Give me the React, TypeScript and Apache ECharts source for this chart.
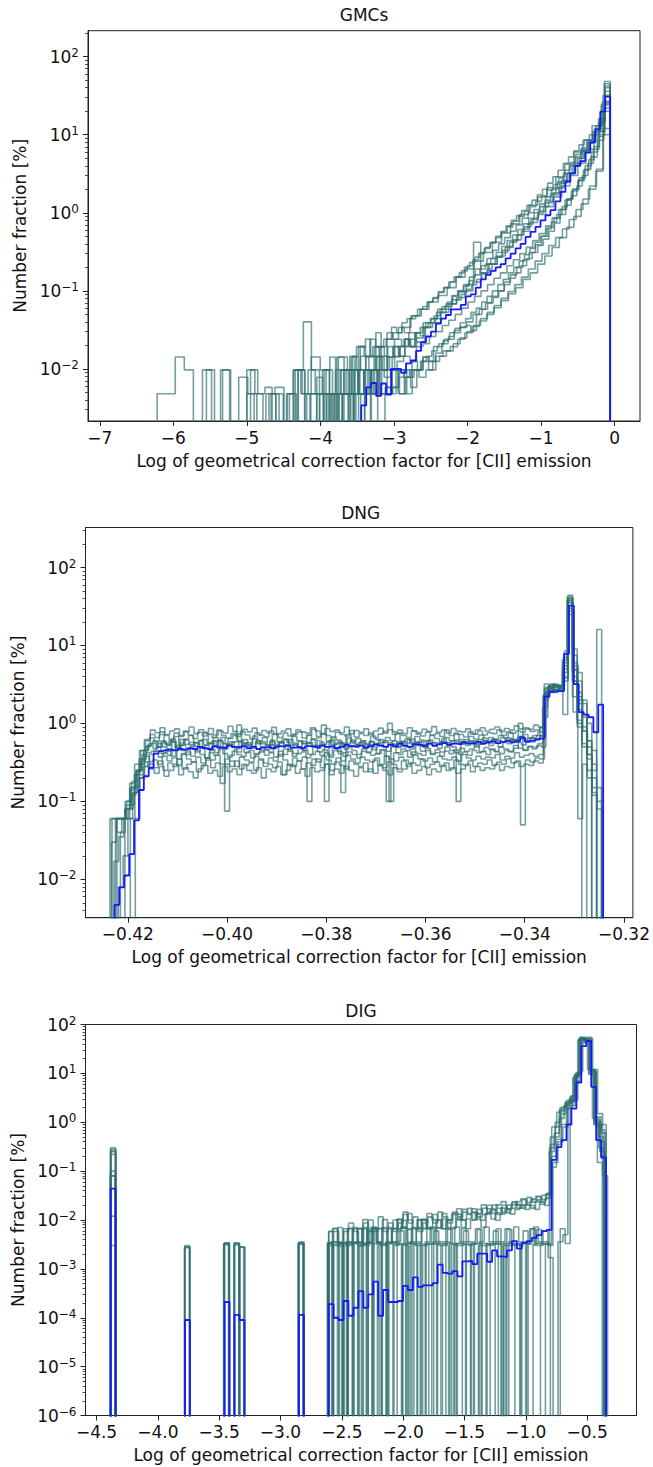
import React, { useEffect, useRef } from "react";
import * as echarts from "echarts";

// ================= GMCs =================
const GMC_X_TICKS = [-7, -6, -5, -4, -3, -2, -1, 0];
const GMC_Y_TICKS = [0.01, 0.1, 1, 10, 100];
const GMC_BLUE_START = -3.445;
const GMC_BLUE_WIDTH = 0.0677;
const GMC_BLUE = [0.0034, 0.0058, 0.0066, 0.0045, 0.0065, 0.0047, 0.01, 0.01, 0.0089, 0.0118, 0.0128, 0.017, 0.022, 0.026, 0.03, 0.038, 0.044, 0.049, 0.058, 0.058, 0.066, 0.085, 0.09, 0.11, 0.14, 0.16, 0.18, 0.2, 0.22, 0.26, 0.3, 0.35, 0.4, 0.49, 0.57, 0.66, 0.8, 0.93, 1.08, 1.4, 1.85, 2.5, 3.2, 4.0, 4.6, 5.9, 8.0, 11.7, 19.7, 30.7];
const GMC_TEAL_STARTS = [-6.22, -5.55, -4.95, -4.3, -4.05, -3.85, -3.7, -3.55, -4.45, -3.95, -4.7, -3.6, -5.0, -3.75];
const GMC_TEAL_WIDTHS = [0.1232, 0.1098, 0.0978, 0.0848, 0.0798, 0.0758, 0.0728, 0.0698, 0.0878, 0.0778, 0.0928, 0.0708, 0.0988, 0.0738];
const GMC_T1 = [0.0048, 0.0048, 0.0142, 0.0097, 0, 0.0097, 0, 0.0097, 0, 0.0078, 0.0048, 0, 0.0048, 0.0058, 0, 0.0097, 0.0048, 0.0142, 0.0097, 0.0048, 0.0142, 0.0097, 0.0193, 0.0145, 0.019, 0.024, 0.029, 0.034, 0.048, 0.058, 0.072, 0.087, 0.11, 0.15, 0.19, 0.24, 0.31, 0.42, 0.55, 0.72, 0.95, 1.25, 1.6, 2.1, 2.9, 4.2, 6.0, 8.5, 13, 24];
const GMC_T2 = [0.0097, 0, 0.0097, 0, 0, 0.0097, 0.0048, 0, 0.0048, 0, 0, 0.0097, 0.04, 0.0097, 0.0048, 0.0048, 0.0097, 0.0048, 0.0097, 0.0048, 0.0097, 0.0142, 0.0097, 0.0142, 0.0195, 0.024, 0.022, 0.034, 0.039, 0.053, 0.068, 0.082, 0.1, 0.13, 0.17, 0.22, 0.28, 0.36, 0.45, 0.58, 0.75, 0.95, 1.2, 1.6, 2.2, 3.0, 4.3, 6.5, 11, 26];
const GMC_T3 = [0.0097, 0.0048, 0.0058, 0, 0, 0.0048, 0.0097, 0.0048, 0.0097, 0.0048, 0.0097, 0.0048, 0.0142, 0.0097, 0.0142, 0.0048, 0.0142, 0.0193, 0.0097, 0.0142, 0.024, 0.0193, 0.029, 0.025, 0.039, 0.044, 0.058, 0.063, 0.077, 0.097, 0.12, 0.42, 0.17, 0.22, 0.27, 0.33, 0.42, 0.52, 0.66, 0.82, 1.05, 1.35, 1.8, 2.4, 3.2, 4.3, 6.2, 8.6, 13, 32];
const GMC_T4 = [0.0097, 0, 0.0048, 0.0048, 0, 0.0048, 0, 0.0048, 0.0097, 0, 0.0048, 0.0048, 0.0097, 0.0048, 0.0058, 0.0097, 0.0048, 0.0097, 0.0058, 0.0097, 0.0142, 0.0125, 0.016, 0.021, 0.024, 0.029, 0.034, 0.04, 0.05, 0.058, 0.07, 0.085, 0.1, 0.13, 0.16, 0.2, 0.25, 0.31, 0.39, 0.5, 0.65, 0.85, 1.1, 1.5, 2.0, 2.8, 4.0, 6.0, 9.5, 22];
const GMC_T5 = [0.0078, 0.0048, 0, 0.0048, 0.0097, 0.0048, 0.0048, 0.0097, 0.0048, 0.0097, 0.0145, 0.0097, 0.0142, 0.0193, 0.0145, 0.024, 0.0193, 0.029, 0.034, 0.039, 0.048, 0.058, 0.068, 0.087, 0.1, 0.12, 0.15, 0.19, 0.21, 0.26, 0.33, 0.4, 0.48, 0.58, 0.7, 0.85, 1.0, 1.1, 1.3, 1.6, 2.0, 2.5, 3.2, 4.0, 5.2, 6.5, 8.5, 11, 16, 45];
const GMC_T6 = [0.0048, 0, 0.0048, 0, 0.0048, 0.0048, 0, 0.0048, 0.0048, 0.0097, 0.0048, 0.0058, 0.0097, 0.0078, 0.0097, 0.0097, 0.0125, 0.0145, 0.017, 0.0193, 0.023, 0.026, 0.031, 0.034, 0.036, 0.031, 0.05, 0.058, 0.07, 0.082, 0.1, 0.12, 0.145, 0.17, 0.21, 0.26, 0.31, 0.38, 0.46, 0.58, 0.74, 0.95, 1.25, 1.65, 2.2, 3.0, 4.3, 6.5, 10, 25];
const GMC_T7 = [0.0048, 0.0048, 0, 0.0097, 0.0048, 0.0048, 0.0097, 0.0048, 0.0058, 0.0048, 0.0097, 0.0097, 0.0078, 0.0125, 0.0097, 0.0142, 0.0125, 0.0193, 0.021, 0.024, 0.029, 0.033, 0.039, 0.044, 0.053, 0.06, 0.072, 0.085, 0.1, 0.12, 0.14, 0.17, 0.2, 0.24, 0.29, 0.35, 0.42, 0.5, 0.62, 0.76, 0.95, 1.2, 1.5, 2.0, 2.6, 3.5, 4.8, 7.0, 11, 27];
const GMC_T8 = [0.0097, 0.0048, 0.0097, 0.0145, 0.0097, 0.0193, 0.0145, 0.0097, 0.0193, 0.0145, 0.024, 0.0193, 0.029, 0.0266, 0.034, 0.039, 0.044, 0.053, 0.058, 0.068, 0.077, 0.09, 0.105, 0.12, 0.14, 0.165, 0.19, 0.22, 0.27, 0.31, 0.37, 0.44, 0.52, 0.62, 0.72, 0.85, 1.0, 1.2, 1.4, 1.7, 2.1, 2.6, 3.2, 4.0, 5.0, 6.3, 8.0, 10.5, 15, 40];
const GMC_T9 = [0.0048, 0, 0, 0.0048, 0.0048, 0, 0.0097, 0, 0.0048, 0.0048, 0.0097, 0.0048, 0.0097, 0.0048, 0.0097, 0.0078, 0.0097, 0.0125, 0.0145, 0.0125, 0.0193, 0.021, 0.026, 0.03, 0.036, 0.042, 0.05, 0.06, 0.072, 0.085, 0.1, 0.12, 0.145, 0.17, 0.21, 0.25, 0.3, 0.36, 0.44, 0.54, 0.68, 0.86, 1.1, 1.45, 1.9, 2.6, 3.6, 5.2, 8.5, 20];
const GMC_T10 = [0.0097, 0.0142, 0.0048, 0.0097, 0.0097, 0.0145, 0.0193, 0.0145, 0.024, 0.0193, 0.0145, 0.029, 0.024, 0.034, 0.029, 0.044, 0.048, 0.058, 0.072, 0.08, 0.095, 0.11, 0.13, 0.15, 0.18, 0.21, 0.25, 0.3, 0.35, 0.41, 0.48, 0.56, 0.66, 0.78, 0.9, 1.05, 1.2, 1.4, 1.65, 1.95, 2.3, 2.8, 3.5, 4.4, 5.6, 6.8, 8.0, 10, 14, 48];
const GMC_T11 = [0.0048, 0, 0, 0.0048, 0, 0, 0.0048, 0, 0.0048, 0, 0.0048, 0, 0.0048, 0.0048, 0, 0.0097, 0.0048, 0.0048, 0.0058, 0.0078, 0.0048, 0.0097, 0.0078, 0.0097, 0.0125, 0.0145, 0.017, 0.021, 0.025, 0.03, 0.036, 0.044, 0.053, 0.065, 0.08, 0.098, 0.12, 0.15, 0.19, 0.24, 0.3, 0.38, 0.48, 0.62, 0.82, 1.1, 1.5, 2.2, 3.6, 10];
const GMC_T12 = [0.0145, 0.0097, 0.0193, 0.0242, 0.0145, 0.029, 0.0193, 0.0242, 0.034, 0.029, 0.039, 0.044, 0.048, 0.058, 0.063, 0.072, 0.082, 0.097, 0.11, 0.13, 0.15, 0.17, 0.2, 0.23, 0.27, 0.31, 0.36, 0.42, 0.5, 0.58, 0.68, 0.8, 0.92, 1.07, 1.25, 1.45, 1.7, 2.0, 2.4, 2.9, 3.5, 4.3, 5.2, 6.2, 7.4, 8.6, 10, 12, 16, 36];
const GMC_T13 = [0.0048, 0, 0, 0, 0.0048, 0, 0, 0.0097, 0, 0, 0.0048, 0, 0.0048, 0.0048, 0, 0.0048, 0.0048, 0.0097, 0, 0.0048, 0.0097, 0.0048, 0.0078, 0.0097, 0.0125, 0.0097, 0.0145, 0.017, 0.0193, 0.024, 0.029, 0.035, 0.041, 0.05, 0.061, 0.075, 0.092, 0.11, 0.14, 0.17, 0.22, 0.28, 0.36, 0.48, 0.65, 0.9, 1.3, 2.0, 3.4, 12];
const GMC_T14 = [0.0048, 0.0097, 0.0048, 0.0097, 0.0145, 0.0097, 0.0048, 0.0145, 0.0097, 0.0193, 0.0145, 0.0193, 0.0242, 0.0193, 0.029, 0.034, 0.039, 0.044, 0.053, 0.063, 0.072, 0.085, 0.1, 0.115, 0.135, 0.16, 0.19, 0.22, 0.26, 0.31, 0.37, 0.44, 0.52, 0.61, 0.72, 0.85, 1.0, 1.2, 1.45, 1.75, 2.1, 2.6, 3.2, 4.0, 5.0, 6.2, 7.8, 10, 14, 42];
const GMC_TEAL = [GMC_T1, GMC_T2, GMC_T3, GMC_T4, GMC_T5, GMC_T6, GMC_T7, GMC_T8, GMC_T9, GMC_T10, GMC_T11, GMC_T12, GMC_T13, GMC_T14];

// ================= DNG =================
const DNG_X_TICKS = [-0.42, -0.4, -0.38, -0.36, -0.34, -0.32];
const DNG_Y_TICKS = [0.01, 0.1, 1, 10, 100];
const DNG_BLUE_START = -0.42269;
const DNG_BLUE_WIDTH = 0.000985;
const DNG_BLUE = [0.0047, 0.0079, 0.0112, 0.021, 0.057, 0.14, 0.21, 0.27, 0.41,
  0.44, 0.45, 0.46, 0.45, 0.47, 0.46, 0.48, 0.47, 0.5, 0.48,
  0.47, 0.51, 0.49, 0.48, 0.52, 0.5, 0.49, 0.51, 0.48, 0.5,
  0.47, 0.49, 0.5, 0.48, 0.51, 0.5, 0.52, 0.49, 0.5, 0.48,
  0.51, 0.5, 0.49, 0.52, 0.5, 0.51, 0.48, 0.5, 0.53, 0.51,
  0.5, 0.52, 0.49, 0.51, 0.54, 0.52, 0.5, 0.53, 0.51, 0.55,
  0.52, 0.5, 0.54, 0.53, 0.51, 0.55, 0.52, 0.54, 0.56, 0.53,
  0.55, 0.54, 0.57, 0.55, 0.56, 0.58, 0.55, 0.57, 0.59, 0.56,
  0.58, 0.6, 0.57, 0.59, 0.66, 0.58, 0.6, 0.62, 0.64,
  2.2, 2.55, 2.6, 2.6, 7.8, 32.5, 3.2, 1.4, 1.3, 1.2, 0.77, 1.74];
const DNG_TEAL_STARTS = [-0.4236, -0.4232, -0.4228, -0.4222, -0.4215, -0.4206, -0.4195, -0.4185, -0.4233, -0.4225, -0.4219];
const DNG_TEAL_WIDTHS = [0.000991, 0.000987, 0.000973, 0.000957, 0.00094, 0.000961, 0.00091, 0.00093, 0.000978, 0.00098, 0.000954];
const DNG_T1 = [0.06, 0.06, 0.06, 0.08, 0.17, 0.3, 0.45, 0.62,
  0.65, 0.58, 0.72, 0.55, 0.6, 0.68, 0.52, 0.63, 0.7, 0.57,
  0.61, 0.75, 0.55, 0.66, 0.59, 0.5, 0.64, 0.71, 0.58, 0.62,
  0.54, 0.69, 0.6, 0.66, 0.52, 0.73, 0.58, 0.63, 0.57, 0.68,
  0.6, 0.55, 0.7, 0.62, 0.65, 0.95, 0.59, 0.67, 0.61, 0.56,
  0.72, 0.58, 0.64, 0.6, 0.53, 0.69, 0.62, 0.57, 0.66, 0.6,
  0.74, 0.58, 0.63, 0.55, 0.68, 0.61, 0.59, 0.7, 0.64, 0.57,
  0.66, 0.6, 0.72, 0.62, 0.58, 0.68, 0.63, 0.71, 0.6, 0.66,
  0.62, 0.7, 0.65, 0.75, 0.6, 0.68, 0.72, 0.64, 0.7, 0.78,
  1.6, 2.9, 3.1, 2.8, 6.5, 42, 4.8, 1.1, 0.55, 0.35, 0.25, 16];
const DNG_T2 = [0.06, 0.04, 0.06, 0.1, 0.18, 0.25, 0.35, 0.42,
  0.44, 0.5, 0.41, 0.47, 0.38, 0.52, 0.45, 0.4, 0.48, 0.43,
  0.5, 0.36, 0.46, 0.42, 0.49, 0.075, 0.39, 0.47, 0.51, 0.42,
  0.45, 0.4, 0.43, 0.46, 0.43, 0.5, 0.38, 0.47, 0.44, 0.41,
  0.49, 0.45, 0.4, 0.52, 0.43, 0.46, 0.39, 0.48, 0.44, 0.42,
  0.5, 0.45, 0.4, 0.47, 0.43, 0.49, 0.41, 0.46, 0.44, 0.5,
  0.42, 0.47, 0.45, 0.4, 0.52, 0.44, 0.48, 0.41, 0.46, 0.43,
  0.5, 0.45, 0.42, 0.48, 0.44, 0.47, 0.52, 0.43, 0.49, 0.46,
  0.44, 0.5, 0.47, 0.43, 0.52, 0.48, 0.45, 0.51, 0.49, 0.55,
  1.2, 2.6, 2.9, 3.0, 4.5, 38, 9, 2.2, 1.3, 0.6, 0.3, 0.15];
const DNG_T3 = [0.017, 0.035, 0.06, 0.08, 0.13, 0.2, 0.28, 0.32,
  0.34, 0.3, 0.38, 0.33, 0.36, 0.29, 0.4, 0.35, 0.32, 0.37,
  0.31, 0.36, 0.34, 0.39, 0.3, 0.35, 0.33, 0.28, 0.37, 0.34,
  0.32, 0.38, 0.35, 0.31, 0.36, 0.33, 0.4, 0.34, 0.29, 0.36,
  0.33, 0.37, 0.1, 0.35, 0.32, 0.38, 0.34, 0.3, 0.36, 0.33,
  0.39, 0.35, 0.31, 0.37, 0.34, 0.32, 0.36, 0.3, 0.38, 0.35,
  0.33, 0.37, 0.34, 0.31, 0.39, 0.35, 0.33, 0.36, 0.32, 0.38,
  0.35, 0.34, 0.37, 0.33, 0.4, 0.36, 0.34, 0.38, 0.35, 0.37,
  0.36, 0.4, 0.34, 0.38, 0.36, 0.42, 0.37, 0.39, 0.41, 0.38, 0.4,
  2.0, 2.7, 2.5, 2.6, 1.3, 25, 3.5, 1.8, 0.9, 0.4, 0.13];
const DNG_T4 = [0.06, 0.06, 0.08, 0.12, 0.25, 0.45, 0.6,
  0.72, 0.66, 0.78, 0.7, 0.62, 0.75, 0.68, 0.8, 0.71, 0.64,
  0.77, 0.69, 0.73, 0.66, 0.82, 0.7, 0.65, 0.74, 0.68, 0.79,
  0.71, 0.63, 0.76, 0.7, 0.67, 0.8, 0.72, 0.66, 0.75, 0.69,
  0.73, 0.78, 0.65, 0.71, 0.84, 0.68, 0.74, 0.7, 0.66, 0.77,
  0.72, 0.69, 0.81, 0.67, 0.74, 0.7, 0.76, 0.65, 0.73, 0.79,
  1.0, 0.72, 0.75, 0.7, 0.66, 0.8, 0.73, 0.69, 0.77, 0.71,
  0.74, 0.68, 0.82, 0.7, 0.75, 0.72, 0.67, 0.78, 0.73, 0.8,
  0.71, 0.76, 0.74, 0.83, 0.7, 0.78, 0.75, 0.8, 0.77, 0.85,
  0.79, 0.82, 0.88,
  3.2, 3.0, 3.1, 2.9, 4.0, 44, 5.0, 2.5, 1.2, 0.5];
const DNG_T5 = [0.04, 0.08, 0.14, 0.22, 0.35, 0.45,
  0.52, 0.47, 0.55, 0.5, 0.44, 0.58, 0.49, 0.53, 0.46, 0.51,
  0.56, 0.48, 0.52, 0.45, 0.6, 0.5, 0.47, 0.54, 0.49, 0.43,
  0.55, 0.51, 0.48, 0.57, 0.5, 0.46, 0.53, 0.49, 0.58, 0.52,
  0.47, 0.54, 0.5, 0.45, 0.56, 0.51, 0.48, 0.53, 0.5, 0.62,
  0.49, 0.55, 0.47, 0.52, 0.5, 0.57, 0.48, 0.53, 0.46, 0.55,
  0.51, 0.1, 0.54, 0.49, 0.56, 0.5, 0.47, 0.58, 0.52, 0.49,
  0.55, 0.51, 0.48, 0.57, 0.53, 0.5, 0.1, 0.55, 0.52, 0.58,
  0.5, 0.54, 0.6, 0.52, 0.56, 0.5, 0.58, 0.55, 0.62, 0.57,
  0.53, 0.6, 0.58, 0.63,
  0.9, 2.4, 2.8, 3.0, 2.7, 5.5, 30, 3.5, 1.5, 0.8];
const DNG_T6 = [0.06, 0.09, 0.16, 0.22, 0.28,
  0.3, 0.27, 0.33, 0.25, 0.31, 0.28, 0.35, 0.26, 0.3, 0.32,
  0.24, 0.29, 0.34, 0.27, 0.31, 0.17, 0.3, 0.28, 0.33, 0.26,
  0.29, 0.31, 0.25, 0.34, 0.28, 0.3, 0.27, 0.32, 0.22, 0.3,
  0.28, 0.33, 0.26, 0.31, 0.29, 0.35, 0.27, 0.3, 0.25, 0.32,
  0.29, 0.26, 0.33, 0.3, 0.28, 0.31, 0.24, 0.34, 0.29, 0.27,
  0.32, 0.3, 0.26, 0.33, 0.28, 0.31, 0.29, 0.35, 0.27, 0.3,
  0.32, 0.28, 0.31, 0.26, 0.34, 0.3, 0.29, 0.33, 0.28, 0.31,
  0.3, 0.34, 0.29, 0.32, 0.3, 0.35, 0.31, 0.33, 0.05, 0.34,
  0.32, 0.36, 0.35,
  2.5, 2.8, 2.7, 3.1, 7.0, 35, 1.4, 0.06, 0.3, 0.2, 0.15, 0.1];
const DNG_T7 = [0.06, 0.15, 0.3, 0.45,
  0.55, 0.6, 0.5, 0.58, 0.52, 0.63, 0.49, 0.56, 0.61, 0.53,
  0.57, 0.5, 0.62, 0.55, 0.59, 0.51, 0.66, 0.54, 0.58, 0.5,
  0.6, 0.56, 0.52, 0.64, 0.55, 0.58, 0.5, 0.61, 0.54, 0.57,
  0.53, 0.62, 0.56, 0.5, 0.59, 0.55, 0.63, 0.52, 0.57, 0.1,
  0.6, 0.54, 0.58, 0.51, 0.65, 0.56, 0.53, 0.6, 0.55, 0.58,
  0.52, 0.62, 0.57, 0.54, 0.6, 0.5, 0.59, 0.56, 0.63, 0.55,
  0.58, 0.53, 0.61, 0.57, 0.55, 0.64, 0.56, 0.6, 0.58, 0.54,
  0.62, 0.57, 0.6, 0.55, 0.65, 0.58, 0.62, 0.6, 0.66, 0.59,
  0.63, 0.61, 0.68, 0.62, 0.65, 0.64, 0.7, 0.68,
  2.9, 3.2, 3.0, 2.8, 3.5, 40, 4.0, 1.0];
const DNG_T8 = [0.06, 0.2, 0.32,
  0.4, 0.44, 0.37, 0.42, 0.39, 0.46, 0.35, 0.41, 0.43, 0.38,
  0.45, 0.4, 0.36, 0.42, 0.39, 0.47, 0.41, 0.37, 0.44, 0.4,
  0.38, 0.43, 0.36, 0.41, 0.45, 0.39, 0.42, 0.37, 0.44, 0.4,
  0.46, 0.38, 0.41, 0.43, 0.36, 0.4, 0.44, 0.39, 0.42, 0.37,
  0.45, 0.41, 0.38, 0.43, 0.4, 0.36, 0.44, 0.42, 0.39, 0.41,
  0.46, 0.38, 0.1, 0.42, 0.4, 0.44, 0.37, 0.43, 0.41, 0.39,
  0.45, 0.4, 0.42, 0.38, 0.44, 0.41, 0.46, 0.4, 0.43, 0.39,
  0.45, 0.42, 0.44, 0.4, 0.47, 0.43, 0.41, 0.45, 0.44, 0.48,
  1.0, 0.46, 0.5, 0.47, 0.52, 0.5,
  2.6, 2.9, 2.7, 3.0, 8.5, 28, 5.5, 2.0, 0.8, 0.4, 0.2];
const DNG_T9 = [0.03, 0.06, 0.06, 0.09, 0.15, 0.24, 0.33, 0.5,
  0.82, 0.76, 0.88, 0.72, 0.8, 0.85, 0.7, 0.78, 0.9, 0.74,
  0.83, 0.77, 0.86, 0.71, 0.8, 0.75, 0.92, 0.79, 0.73, 0.84,
  0.78, 0.87, 0.72, 0.81, 0.76, 0.89, 0.74, 0.8, 0.85, 0.7,
  0.83, 0.78, 0.75, 0.88, 0.8, 0.73, 0.86, 0.79, 0.82, 0.76,
  0.9, 0.74, 0.81, 0.77, 0.85, 0.72, 0.8, 0.87, 0.75, 0.83,
  0.78, 0.82, 0.74, 0.88, 0.8, 0.76, 0.84, 0.79, 0.91, 0.77,
  0.82, 0.75, 0.86, 0.8, 0.78, 0.85, 0.73, 0.83, 0.88, 0.8,
  0.84, 0.9, 0.79, 0.86, 0.82, 0.93, 0.85, 0.88, 0.84, 0.95, 0.9,
  2.3, 3.0, 3.2, 2.9, 5.0, 36, 7.5, 3.5, 2.0, 1.0, 0.45];
const DNG_T10 = [0.06, 0.06, 0.1, 0.15, 0.22, 0.3, 0.38,
  0.26, 0.23, 0.28, 0.21, 0.25, 0.3, 0.22, 0.27, 0.24, 0.2,
  0.26, 0.29, 0.23, 0.25, 0.21, 0.28, 0.24, 0.26, 0.22, 0.3,
  0.25, 0.23, 0.27, 0.2, 0.26, 0.24, 0.28, 0.22, 0.25, 0.29,
  0.23, 0.26, 0.21, 0.27, 0.24, 0.25, 0.3, 0.22, 0.26, 0.23,
  0.28, 0.25, 0.21, 0.27, 0.24, 0.26, 0.23, 0.29, 0.25, 0.22,
  0.27, 0.24, 0.26, 0.3, 0.23, 0.25, 0.28, 0.22, 0.26, 0.24,
  0.29, 0.25, 0.27, 0.23, 0.26, 0.3, 0.24, 0.28, 0.25, 0.27,
  0.26, 0.3, 0.25, 0.28, 0.27, 0.32, 0.28, 0.3, 0.29, 0.33, 0.31,
  2.3, 2.5, 2.7, 2.6, 6.0, 38, 2.2, 0.9, 0.5, 0.25, 0.12, 0.08];
const DNG_T11 = [0.008, 0.02, 0.06, 0.13, 0.25, 0.4, 0.52,
  0.55, 0.5, 0.6, 0.53, 0.58, 0.48, 0.62, 0.54, 0.57, 0.51,
  0.59, 0.53, 0.56, 0.5, 0.61, 0.55, 0.52, 0.58, 0.95, 0.54,
  0.57, 0.51, 0.6, 0.55, 0.53, 0.58, 0.5, 0.56, 0.62, 0.54,
  0.52, 0.59, 0.55, 0.57, 0.51, 0.6, 0.54, 0.58, 0.53, 0.56,
  0.13, 0.55, 0.61, 0.53, 0.57, 0.5, 0.59, 0.55, 0.52, 0.6,
  0.56, 0.54, 0.58, 0.51, 0.62, 0.55, 0.57, 0.53, 0.6, 0.56,
  0.54, 0.59, 0.57, 0.55, 0.61, 0.58, 0.56, 0.6, 0.54, 0.62,
  0.58, 0.56, 0.63, 0.6, 0.57, 0.65, 0.6, 0.62, 0.64, 0.6,
  0.66, 0.63, 0.7,
  2.8, 3.1, 2.7, 3.0, 3.8, 40, 6.0, 4.5, 1.8, 0.6];
const DNG_TEAL = [DNG_T1, DNG_T2, DNG_T3, DNG_T4, DNG_T5, DNG_T6, DNG_T7, DNG_T8, DNG_T9, DNG_T10, DNG_T11];

// ================= DIG =================
const DIG_X_TICKS = [-4.5, -4, -3.5, -3, -2.5, -2, -1.5, -1, -0.5];
const DIG_Y_TICKS = [1e-6, 1e-5, 1e-4, 1e-3, 1e-2, 1e-1, 1, 10, 100];
const DIG_BLUE_START = -4.385;
const DIG_BLUE_WIDTH = 0.0404;
const DIG_BLUE = [0.044, 0, 0, 0, 0, 0, 0, 0, 0, 0, 0, 0, 0, 0, 0, 9e-5, 0, 0, 0, 0, 0, 0, 0, 2.1e-4, 0, 1.15e-4, 9e-5, 0, 0, 0, 0, 0, 0, 0, 0, 0, 0, 0, 1.15e-4, 0, 0, 0, 0, 0,
  1.9e-4, 1.0e-4, 9e-5, 2.2e-4, 1.1e-4, 1.6e-4, 3.5e-4, 1.6e-4, 3.0e-4, 5.5e-4, 1.1e-4, 3.7e-4, 2.1e-4, 2.1e-4, 2.2e-4, 4.5e-4, 3.7e-4, 6.7e-4, 4.3e-4, 4.6e-4, 4.6e-4,
  5.1e-4, 1.22e-3, 8.3e-4, 8e-4, 9e-4, 7e-4, 1.43e-3, 1.45e-3, 1.25e-3, 2.06e-3, 2.06e-3, 1.4e-3, 2.4e-3, 1.8e-3, 1.75e-3, 2.4e-3, 3.7e-3, 2.6e-3, 3.4e-3, 3.7e-3, 4.3e-3, 4.9e-3, 5.9e-3, 6.3e-3,
  0.17, 0.31, 0.43, 0.9, 1.9, 6.5, 36, 46, 5.3, 0.43, 0.19];
const DIG_TEAL_STARTS = [-4.385, -4.385, -4.387, -4.383, -4.386, -4.384, -4.385, -4.386, -4.385, -4.386];
const DIG_TEAL_WIDTHS = [0.0404, 0.0402, 0.0403, 0.0405, 0.0401, 0.0404, 0.0402, 0.0403, 0.0403, 0.0404];
const DIG_T1 = [0.3, 0, 0, 0, 0, 0, 0, 0, 0, 0, 0, 0, 0, 0, 0, 0.0028, 0, 0, 0, 0, 0, 0, 0, 0.0033, 0, 0.0033, 0.0028, 0, 0, 0, 0, 0, 0, 0, 0, 0, 0, 0, 0.0035, 0, 0, 0, 0, 0,
  0.0058, 0, 0.0033, 0.0066, 0.0033, 0.0066, 0.0066, 0, 0.01, 0.0066, 0.0066, 0.0033, 0.0066, 0.01, 0.0066, 0.013, 0.01, 0.0066, 0.01, 0.01, 0.0066, 0.013, 0.01, 0.0066, 0.01, 0.013, 0.01, 0.0165, 0.013, 0.01, 0.0165, 0.013, 0.02, 0.0165, 0.013, 0.02, 0.0165, 0.023, 0.02, 0.026, 0.023, 0.026, 0.03, 0.026, 0.033,
  0.2, 0.45, 1.5, 2.8, 3.0, 10, 52, 45, 11, 1.0, 0.6];
const DIG_T2 = [0.25, 0, 0, 0, 0, 0, 0, 0, 0, 0, 0, 0, 0, 0, 0, 0, 0, 0, 0, 0, 0, 0, 0, 0.0033, 0, 0, 0, 0, 0, 0, 0, 0, 0, 0, 0, 0, 0, 0, 0.0033, 0, 0, 0, 0, 0,
  0.0033, 0, 0.0033, 0.0033, 0, 0.0033, 0.0033, 0.0066, 0, 0.0033, 0.0033, 0, 0.0033, 0.0066, 0.0033, 0, 0.0033, 0.0033, 0.0066, 0, 0.0033, 0.0033, 0.0033, 0, 0.0066, 0.0033, 0.0033, 0.0033, 0, 0.0033, 0.0066, 0.0033, 0.0033, 0, 0.0033, 0.0033, 0.0066, 0.0033, 0, 0.0033, 0.0033, 0.0066, 0.0033, 0.0033, 0.0033,
  0.3, 0.5, 1.2, 2.2, 2.6, 9, 50, 42, 10, 0.9, 0.3];
const DIG_T3 = [0.08, 0, 0, 0, 0, 0, 0, 0, 0, 0, 0, 0, 0, 0, 0, 0.0028, 0, 0, 0, 0, 0, 0, 0, 0, 0, 0.0033, 0, 0, 0, 0, 0, 0, 0, 0, 0, 0, 0, 0, 0, 0, 0, 0, 0, 0,
  0.0035, 0.0035, 0.007, 0.0035, 0.0035, 0.007, 0.0035, 0.007, 0.0035, 0.007, 0.0035, 0.007, 0.007, 0.0035, 0.0105, 0.007, 0.0035, 0.007, 0.007, 0.0105, 0.007, 0.0035, 0.007, 0.0105, 0.007, 0.007, 0.0105, 0.007, 0.0105, 0.014, 0.0105, 0.007, 0.014, 0.0105, 0.014, 0.0175, 0.014, 0.0175, 0.021, 0.0175, 0.021, 0.0175, 0.024, 0.021, 0.028,
  0.5, 1.0, 2.0, 2.5, 3.2, 7, 55, 48, 12, 1.2, 0.7];
const DIG_T4 = [0.012, 0, 0, 0, 0, 0, 0, 0, 0, 0, 0, 0, 0, 0, 0, 0, 0, 0, 0, 0, 0, 0, 0, 0, 0, 0, 0.0028, 0, 0, 0, 0, 0, 0, 0, 0, 0, 0, 0, 0, 0, 0, 0, 0, 0,
  0.003, 0.003, 0, 0.003, 0.003, 0, 0.003, 0.003, 0.006, 0, 0.003, 0.003, 0, 0.003, 0.006, 0.003, 0, 0.003, 0.003, 0.003, 0, 0.006, 0.003, 0.003, 0, 0.003, 0.003, 0.006, 0.003, 0, 0.003, 0.003, 0.003, 0.006, 0, 0.003, 0.003, 0.003, 0.003, 0.006, 0, 0.003, 0.003, 0.006, 0.003,
  0.15, 0.4, 0.8, 2.0, 2.8, 11, 45, 52, 12, 1.5, 0.08];
const DIG_T5 = [0.003, 0, 0, 0, 0, 0, 0, 0, 0, 0, 0, 0, 0, 0, 0, 0, 0, 0, 0, 0, 0, 0, 0, 0.0031, 0, 0, 0, 0, 0, 0, 0, 0, 0, 0, 0, 0, 0, 0, 0, 0, 0, 0, 0, 0,
  0, 0.0036, 0.0036, 0, 0.0036, 0.0036, 0.0036, 0, 0.0036, 0.0072, 0.0036, 0, 0.0036, 0.0036, 0.0036, 0.0072, 0, 0.0036, 0.0036, 0, 0.0036, 0.0072, 0.0036, 0.0036, 0.0036, 0, 0.0072, 0.0036, 0.0036, 0.0036, 0, 0.0036, 0.0072, 0.0036, 0.0036, 0.0036, 0, 0.0036, 0.0072, 0.0036, 0.0036, 0.0036, 0.0072, 0.0036, 0.0036,
  0.0017, 0, 0.0036, 0.005, 2.5, 8, 48, 50, 12, 1.2, 0.15];
const DIG_T6 = [0.28, 0, 0, 0, 0, 0, 0, 0, 0, 0, 0, 0, 0, 0, 0, 0, 0, 0, 0, 0, 0, 0, 0, 0, 0, 0.0031, 0, 0, 0, 0, 0, 0, 0, 0, 0, 0, 0, 0, 0.0035, 0, 0, 0, 0, 0,
  0.0058, 0.0058, 0.0029, 0.0058, 0.0087, 0.0058, 0.0029, 0.0087, 0.0058, 0.0058, 0.0116, 0.0058, 0.0087, 0.0058, 0.0087, 0.0145, 0.0087, 0.0116, 0.0058, 0.0087, 0.0116, 0.0087, 0.0145, 0.0116, 0.0087, 0.0145, 0.0116, 0.0145, 0.0174, 0.0145, 0.0116, 0.0174, 0.0145, 0.0203, 0.0174, 0.0145, 0.0203, 0.0232, 0.0174, 0.0203, 0.029, 0.0232, 0.026, 0.032, 0.035,
  0.8, 1.6, 2.0, 2.4, 3.5, 9.5, 50, 55, 10, 0.8, 0.9];
const DIG_T7 = [0.22, 0, 0, 0, 0, 0, 0, 0, 0, 0, 0, 0, 0, 0, 0, 0.0027, 0, 0, 0, 0, 0, 0, 0, 0.0033, 0, 0, 0.0028, 0, 0, 0, 0, 0, 0, 0, 0, 0, 0, 0, 0, 0, 0, 0, 0, 0,
  0.0033, 0.0066, 0.0033, 0.0033, 0.0066, 0.0033, 0.0066, 0.0033, 0.0066, 0.0066, 0.0033, 0.0066, 0.0033, 0.0066, 0.0066, 0.0099, 0.0066, 0.0033, 0.0066, 0.0099, 0.0066, 0.0066, 0.0099, 0.0066, 0.0099, 0.0066, 0.0132, 0.0099, 0.0066, 0.0099, 0.0132, 0.0099, 0.0132, 0.0165, 0.0099, 0.0132, 0.0165, 0.0132, 0.0165, 0.0198, 0.0165, 0.0198, 0.0165, 0.0231, 0.0198,
  0.25, 0.6, 1.8, 2.2, 3.0, 8.5, 52, 47, 9.5, 1.0, 0.5];
const DIG_T8 = [0.08, 0, 0, 0, 0, 0, 0, 0, 0, 0, 0, 0, 0, 0, 0, 0, 0, 0, 0, 0, 0, 0, 0, 0, 0, 0, 0, 0, 0, 0, 0, 0, 0, 0, 0, 0, 0, 0, 0.0033, 0, 0, 0, 0, 0,
  0.0033, 0, 0, 0.0033, 0, 0.0033, 0, 0.0033, 0.0033, 0, 0.0033, 0, 0.0033, 0.0033, 0, 0.0033, 0.0033, 0, 0.0033, 0.0066, 0.0033, 0, 0.0033, 0.0033, 0.0033, 0, 0.0033, 0.0066, 0, 0.0033, 0.0033, 0, 0.0033, 0.0033, 0.0066, 0, 0.0033, 0.0033, 0.0033, 0, 0.0033, 0.0066, 0.0033, 0, 0.0033,
  0, 0, 0.0066, 0.0033, 2.2, 10, 50, 46, 11, 0.9, 0.25];
const DIG_T9 = [0.26, 0, 0, 0, 0, 0, 0, 0, 0, 0, 0, 0, 0, 0, 0, 0.003, 0, 0, 0, 0, 0, 0, 0, 0.0034, 0, 0.0034, 0, 0, 0, 0, 0, 0, 0, 0, 0, 0, 0, 0, 0, 0, 0, 0, 0, 0,
  0.0034, 0.0068, 0.0034, 0, 0.0068, 0.0034, 0.0068, 0.0102, 0.0034, 0.0068, 0.0068, 0.0102, 0.0034, 0.0068, 0.0102, 0.0068, 0.0136, 0.0068, 0.0102, 0.0068, 0.0136, 0.0102, 0.0068, 0.0136, 0.0102, 0.0136, 0.017, 0.0102, 0.0136, 0.017, 0.0136, 0.0204, 0.017, 0.0136, 0.0204, 0.0238, 0.017, 0.0204, 0.0238, 0.0272, 0.0204, 0.0272, 0.0306, 0.0238, 0.034,
  0.35, 0.8, 1.7, 2.6, 3.4, 9, 54, 50, 12, 1.1, 0.4];
const DIG_T10 = [0.1, 0, 0, 0, 0, 0, 0, 0, 0, 0, 0, 0, 0, 0, 0, 0, 0, 0, 0, 0, 0, 0, 0, 0, 0, 0, 0, 0, 0, 0, 0, 0, 0, 0, 0, 0, 0, 0, 0.0032, 0, 0, 0, 0, 0,
  0, 0.0032, 0.0032, 0, 0.0032, 0, 0.0032, 0.0032, 0, 0.0064, 0.0032, 0.0032, 0, 0.0032, 0.0032, 0, 0.0064, 0.0032, 0, 0.0032, 0.0032, 0.0032, 0, 0.0032, 0.0064, 0.0032, 0, 0.0032, 0.0032, 0.0032, 0.0064, 0, 0.0032, 0.0032, 0.0032, 0, 0.0064, 0.0032, 0.0032, 0, 0.0032, 0.0032, 0.0064, 0.0032, 0.0032,
  0.12, 0.35, 0.9, 1.9, 2.7, 10, 48, 50, 11, 1.3, 0.2];
const DIG_TEAL = [DIG_T1, DIG_T2, DIG_T3, DIG_T4, DIG_T5, DIG_T6, DIG_T7, DIG_T8, DIG_T9, DIG_T10];

// ================= styling / layout =================
const FONT = "DejaVu Sans";
const TEXT = "#111111";
const AXIS = "#222222";
const TEAL = "rgba(45,110,110,0.66)";
const BLUE = "#1818ff";
const X_NAME = "Log of geometrical correction factor for [CII] emission";
const Y_NAME = "Number fraction [%]";

const PANELS = [
  {
    title: "GMCs", titleY: 15,
    grid: { left: 88, top: 30.7, width: 552, height: 390.3 },
    xMin: -7.16, xMax: 0.345, yMin: 0.00215, yMax: 215, digits: 0,
    xTicks: GMC_X_TICKS, yTicks: GMC_Y_TICKS,
    tealStarts: GMC_TEAL_STARTS, tealWidths: GMC_TEAL_WIDTHS, teal: GMC_TEAL,
    blueStart: GMC_BLUE_START, blueWidth: GMC_BLUE_WIDTH, blue: GMC_BLUE,
  },
  {
    title: "DNG", titleY: 513.3,
    grid: { left: 85.5, top: 527.5, width: 550.5, height: 390.2 },
    xMin: -0.42854, xMax: -0.3182, yMin: 0.00322, yMax: 326, digits: 2,
    xTicks: DNG_X_TICKS, yTicks: DNG_Y_TICKS,
    tealStarts: DNG_TEAL_STARTS, tealWidths: DNG_TEAL_WIDTHS, teal: DNG_TEAL,
    blueStart: DNG_BLUE_START, blueWidth: DNG_BLUE_WIDTH, blue: DNG_BLUE,
  },
  {
    title: "DIG", titleY: 1010.7,
    grid: { left: 85.5, top: 1024.5, width: 551, height: 391 },
    xMin: -4.59, xMax: -0.097, yMin: 1e-6, yMax: 100, digits: 1,
    xTicks: DIG_X_TICKS, yTicks: DIG_Y_TICKS,
    tealStarts: DIG_TEAL_STARTS, tealWidths: DIG_TEAL_WIDTHS, teal: DIG_TEAL,
    blueStart: DIG_BLUE_START, blueWidth: DIG_BLUE_WIDTH, blue: DIG_BLUE,
  },
];

const TINY = 1e-12;

function stepPoints(start: number, width: number, values: number[]): [number, number][] {
  const pts: [number, number][] = [[start, TINY]];
  values.forEach((v, i) => pts.push([start + i * width, v > 0 ? v : TINY]));
  const end = start + values.length * width;
  const last = values[values.length - 1];
  pts.push([end, last > 0 ? last : TINY]);
  pts.push([end, TINY]);
  return pts;
}

function powLabel(v: number): string {
  const e = Math.round(Math.log10(v));
  const es = e < 0 ? "\u2212" + String(-e) : String(e);
  return "{b|10}{s|" + es + "}";
}
function minorTicks(min: number, max: number): number[] {
  const out: number[] = [];
  for (let k = Math.floor(Math.log10(min)) - 1; k <= Math.ceil(Math.log10(max)); k++) {
    for (let m = 2; m <= 9; m++) {
      const v = m * Math.pow(10, k);
      if (v >= min && v <= max) out.push(v);
    }
  }
  return out;
}

function buildOption() {
  const textStyle = { fontSize: 17, fontFamily: FONT, color: TEXT };
  const grid: any[] = [];
  const xAxis: any[] = [];
  const yAxis: any[] = [];
  const series: any[] = [];
  const graphic: any[] = [];

  PANELS.forEach((p, i) => {
    grid.push({ ...p.grid, show: true, borderColor: AXIS, borderWidth: 1, backgroundColor: "transparent", containLabel: false });
    const digits = p.digits;
    xAxis.push({
      type: "value", gridIndex: i, position: "bottom", min: p.xMin, max: p.xMax,
      axisLine: { show: true, onZero: false, lineStyle: { color: AXIS, width: 1 } },
      axisTick: { show: true, length: 5, customValues: p.xTicks, lineStyle: { color: AXIS, width: 1 } },
      axisLabel: {
        customValues: p.xTicks, margin: 8, ...textStyle,
        formatter: (v: number) => {
          const s = Number(v).toFixed(digits);
          return s.startsWith("-") ? "\u2212" + s.slice(1) : s;
        },
      },
      splitLine: { show: false },
      name: X_NAME, nameLocation: "middle", nameGap: 31, nameTextStyle: textStyle,
    });
    yAxis.push({
      type: "log", logBase: 10, gridIndex: i, position: "left", min: p.yMin, max: p.yMax,
      axisLine: { show: true, onZero: false, lineStyle: { color: AXIS, width: 1 } },
      axisTick: { show: true, length: 5, customValues: p.yTicks, lineStyle: { color: AXIS, width: 1 } },
      axisLabel: {
        customValues: p.yTicks, margin: 9, color: TEXT,
        formatter: (v: number) => powLabel(v),
        rich: {
          b: { fontSize: 17, fontFamily: FONT, color: TEXT, lineHeight: 20 },
          s: { fontSize: 12, fontFamily: FONT, color: TEXT, lineHeight: 6, verticalAlign: "top" },
        },
      },
      splitLine: { show: false },
      minorTick: { show: false },
      name: Y_NAME, nameLocation: "middle", nameRotate: 90, nameGap: 49, nameTextStyle: textStyle,
    });
    yAxis.push({
      type: "log", logBase: 10, gridIndex: i, position: "left", offset: 0, min: p.yMin, max: p.yMax,
      axisLine: { show: false, onZero: false },
      axisTick: { show: true, length: 3, customValues: minorTicks(p.yMin, p.yMax), lineStyle: { color: AXIS, width: 0.8 } },
      axisLabel: { show: false },
      splitLine: { show: false },
    });

    p.teal.forEach((vals, j) => {
      series.push({
        type: "line", xAxisIndex: i, yAxisIndex: 2 * i,
        data: stepPoints(p.tealStarts[j], p.tealWidths[j], vals),
        step: "end", symbol: "none", showSymbol: false, silent: true, clip: true,
        lineStyle: { color: TEAL, width: 1.6 },
        emphasis: { disabled: true }, z: 2,
      });
    });
    series.push({
      type: "line", xAxisIndex: i, yAxisIndex: 2 * i,
      data: stepPoints(p.blueStart, p.blueWidth, p.blue),
      step: "end", symbol: "none", showSymbol: false, silent: true, clip: true,
      lineStyle: { color: BLUE, width: 1.8 },
      emphasis: { disabled: true }, z: 3,
    });

    graphic.push({
      type: "text", x: p.grid.left + p.grid.width / 2, y: p.titleY, silent: true,
      style: {
        text: p.title, fontSize: 17, fontFamily: FONT, fill: TEXT,
        align: "center", verticalAlign: "middle", textAlign: "center", textVerticalAlign: "middle",
      },
    });
  });

  return { animation: false, backgroundColor: "#ffffff", grid, xAxis, yAxis, series, graphic };
}

export default function App() {
  const ref = useRef<HTMLDivElement>(null);
  useEffect(() => {
    if (!ref.current) return;
    const chart = echarts.init(ref.current, null, { renderer: "svg" });
    chart.setOption(buildOption() as any);
    return () => chart.dispose();
  }, []);
  return (
    <div
      ref={ref}
      style={{ position: "absolute", left: 0, top: 0, width: 653, height: 1467, background: "#ffffff" }}
    />
  );
}
